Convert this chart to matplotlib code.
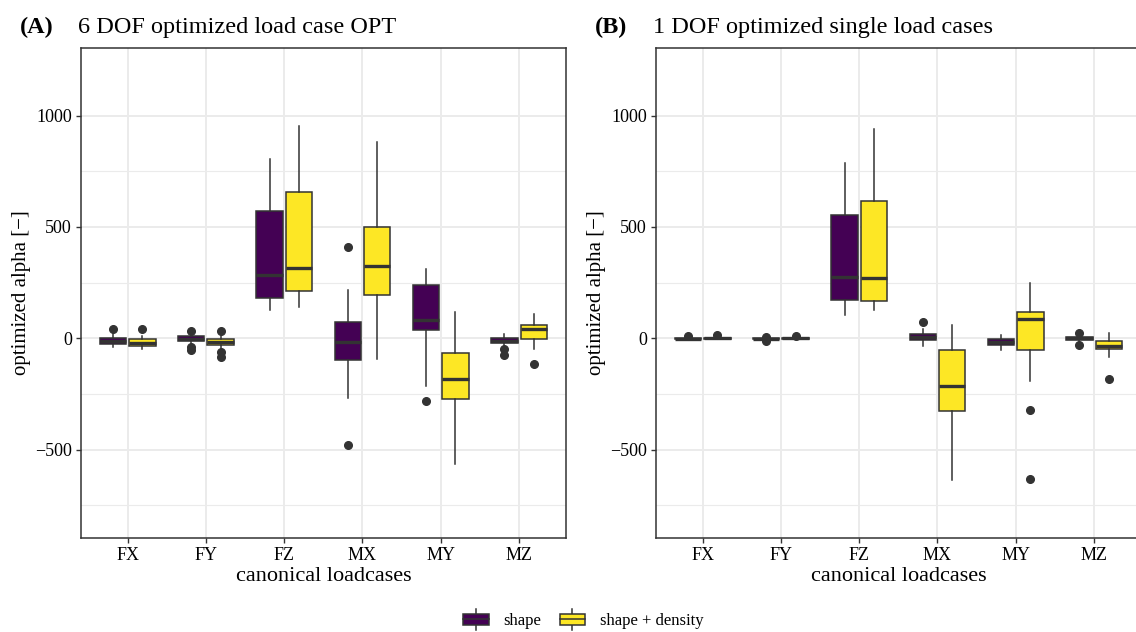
import numpy as np
import matplotlib.pyplot as plt
from matplotlib.patches import Rectangle
from matplotlib.lines import Line2D
from matplotlib.legend_handler import HandlerBase

plt.rcParams['font.family'] = ['Liberation Serif', 'DejaVu Serif']

cases = ['FX', 'FY', 'FZ', 'MX', 'MY', 'MZ']
groups = ['shape', 'shape + density']
colors = ['#440154', '#FDE725']

# box stats per case: whislo, q1, median, q3, whishi
a_shape = [[-38, -25, -10, 0, 18],
           [-25, -14, -3, 10, 20],
           [126, 182, 283, 570, 804],
           [-268, -97, -15, 72, 216],
           [-213, 36, 82, 238, 310],
           [-30, -20, -10, 1, 20]]
a_shape_out = [[40], [32, -40, -52], [], [409, -480], [-280], [-48, -76]]
a_dens = [[-50, -36, -20, -3, 10],
          [-45, -29, -15, -2, 12],
          [139, 214, 314, 656, 954],
          [-93, 196, 326, 500, 880],
          [-565, -273, -184, -65, 117],
          [-47, -2, 42, 61, 108]]
a_dens_out = [[40], [34, -62, -82], [], [], [], [-115]]

b_shape = [[-8, -4, -1, 2, 6],
           [-3, -4, -1, 2, 3],
           [105, 171, 275, 554, 786],
           [-33, -8, 6, 19, 43],
           [-53, -29, -15, -3, 15],
           [-12, -9, 0, 4, 8]]
b_shape_out = [[10], [5, -11], [], [73], [], [22, -30]]
b_dens = [[-5, -3, 0, 3, 6],
          [-5, -3, 0, 2, 5],
          [126, 168, 270, 618, 940],
          [-637, -328, -213, -53, 61],
          [-190, -51, 85, 117, 250],
          [-85, -47, -35, -11, 22]]
b_dens_out = [[15], [12], [], [], [-322, -634], [-181]]

panels = [('(A)', '6 DOF optimized load case OPT', [(a_shape, a_shape_out), (a_dens, a_dens_out)]),
          ('(B)', '1 DOF optimized single load cases', [(b_shape, b_shape_out), (b_dens, b_dens_out)])]

edge = '#333333'


def make_stats(rows, outs):
    st = []
    for r, o in zip(rows, outs):
        st.append(dict(whislo=r[0], q1=r[1], med=r[2], q3=r[3], whishi=r[4], fliers=o))
    return st


class BoxHandler(HandlerBase):
    def create_artists(self, legend, orig_handle, xdescent, ydescent, width, height, fontsize, trans):
        fc = orig_handle.get_facecolor()
        x0, y0 = -xdescent, -ydescent
        bx = Rectangle((x0 + 1, y0 + height * 0.1), width - 2, height * 0.8,
                       facecolor=fc, edgecolor=edge, lw=1.1, transform=trans)
        med = Line2D([x0 + 1, x0 + width - 1], [y0 + height / 2] * 2,
                     color=edge, lw=1.1, transform=trans)
        w1 = Line2D([x0 + width / 2] * 2, [y0 - height * 0.2, y0 + height * 0.1],
                    color=edge, lw=1.1, transform=trans)
        w2 = Line2D([x0 + width / 2] * 2, [y0 + height * 0.9, y0 + height * 1.2],
                    color=edge, lw=1.1, transform=trans)
        return [w1, w2, bx, med]


fig = plt.figure(figsize=(11.36, 6.32), dpi=100)
lefts = [80.7 / 1136, 655.7 / 1136]
pos = np.arange(1, len(cases) + 1)

for (tag, title, data), left in zip(panels, lefts):
    ax = fig.add_axes([left, 94 / 632, 485.3 / 1136, 490 / 632])
    for gi, (rows, outs) in enumerate(data):
        off = -0.1875 if gi == 0 else 0.1875
        ax.bxp(make_stats(rows, outs), positions=pos + off, widths=0.3375,
               patch_artist=True, showcaps=False,
               boxprops=dict(facecolor=colors[gi], edgecolor=edge, lw=1.1),
               whiskerprops=dict(color=edge, lw=1.1),
               medianprops=dict(color=edge, lw=2.4, solid_capstyle='butt'),
               flierprops=dict(marker='o', markerfacecolor=edge, markeredgecolor=edge, markersize=5.5))
    ax.set_xlim(0.4, 6.6)
    ax.set_ylim(-897, 1304)
    ax.set_xticks(pos)
    ax.set_xticklabels(cases)
    ax.set_yticks([-500, 0, 500, 1000])
    ax.set_yticks([-750, -250, 250, 750], minor=True)
    ax.yaxis.set_major_formatter(plt.FuncFormatter(lambda v, p: f'{int(v)}'.replace('-', '\u2212')))
    ax.tick_params(axis='both', which='major', colors=edge, labelcolor='black', labelsize=13,
                   length=3.8, width=1, pad=2.5)
    ax.tick_params(axis='y', which='minor', length=0)
    ax.grid(True, which='major', color='#EBEBEB', lw=1.4)
    ax.grid(True, which='minor', axis='y', color='#EBEBEB', lw=0.8)
    ax.set_axisbelow(True)
    for s in ax.spines.values():
        s.set_color(edge)
        s.set_linewidth(1.1)
    ax.set_xlabel('canonical loadcases', fontsize=16, labelpad=2)
    ax.set_ylabel('optimized alpha [\u2212]', fontsize=15, labelpad=3)
    x0 = left * 1136
    fig.text((x0 - 61) / 1136, 1 - 33 / 632, tag, fontsize=17.5, fontweight='bold', ha='left', va='baseline')
    fig.text((x0 - 3) / 1136, 1 - 33 / 632, title, fontsize=17.5, ha='left', va='baseline')

handles = [Rectangle((0, 0), 1, 1, facecolor=c) for c in colors]
fig.legend(handles, groups, loc='center', bbox_to_anchor=(0.513, 0.018), ncol=2, frameon=False,
           fontsize=12, handler_map={Rectangle: BoxHandler()}, handlelength=1.7, handleheight=1.0,
           handletextpad=0.8, columnspacing=1.0)

fig.savefig('out.png', dpi=100)
